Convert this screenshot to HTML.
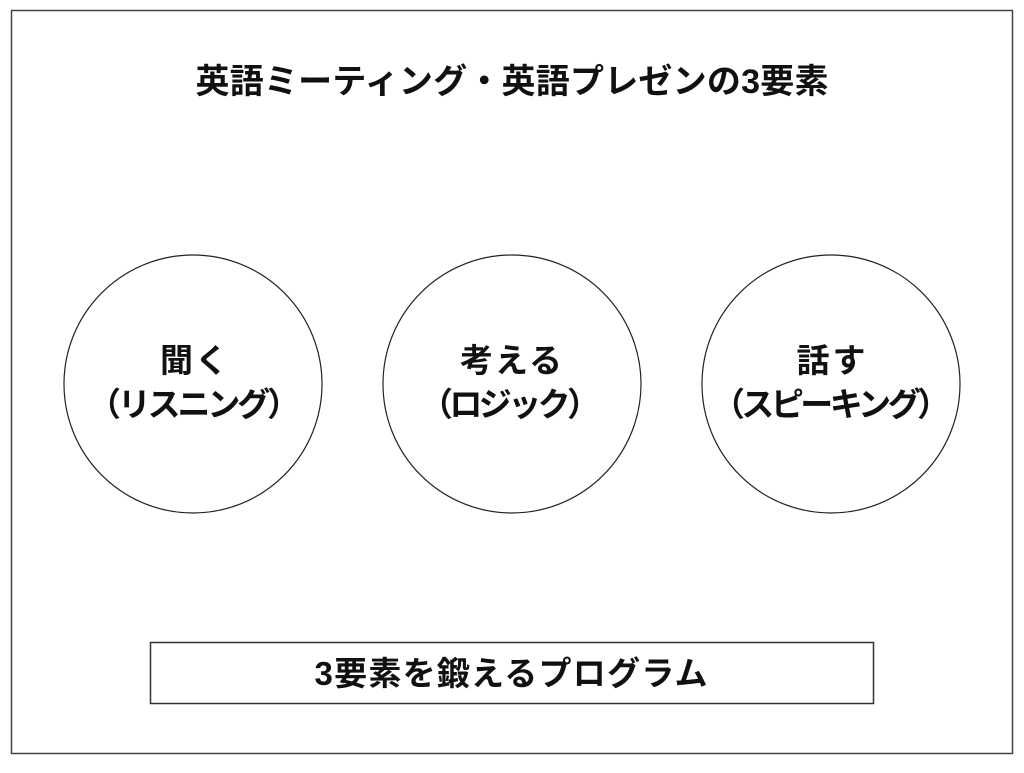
<!DOCTYPE html>
<html><head><meta charset="utf-8"><style>
html,body{margin:0;padding:0;background:#fff;}
svg text{font-family:"Liberation Sans","Noto Sans CJK JP",sans-serif;font-weight:bold;fill:#111;text-anchor:middle;}
</style></head><body>
<svg width="1024" height="768" viewBox="0 0 1024 768" xmlns="http://www.w3.org/2000/svg">
<rect x="11.5" y="10.5" width="1001" height="743" fill="#fff" stroke="#444" stroke-width="1.5"/>
<text x="512" y="93" font-size="34" textLength="633" lengthAdjust="spacing">英語ミーティング・英語プレゼンの3要素</text>
<circle cx="193" cy="384" r="129" fill="#fff" stroke="#222" stroke-width="1.2"/>
<circle cx="512" cy="384" r="129" fill="#fff" stroke="#222" stroke-width="1.2"/>
<circle cx="831" cy="384" r="129" fill="#fff" stroke="#222" stroke-width="1.2"/>
<text x="194" y="372" font-size="33" textLength="68" lengthAdjust="spacing">聞く</text>
<text x="194" y="416" font-size="33" textLength="212" lengthAdjust="spacing">（リスニング）</text>
<text x="511" y="372" font-size="33" textLength="102" lengthAdjust="spacing">考える</text>
<text x="510" y="416" font-size="33" textLength="180" lengthAdjust="spacing">（ロジック）</text>
<text x="831" y="372" font-size="33" textLength="69" lengthAdjust="spacing">話す</text>
<text x="831" y="416" font-size="33" textLength="238" lengthAdjust="spacing">（スピーキング）</text>
<rect x="150.5" y="642.5" width="723" height="61" fill="#fff" stroke="#333" stroke-width="1.5"/>
<text x="511" y="685" font-size="33" textLength="393" lengthAdjust="spacing">3要素を鍛えるプログラム</text>
</svg>
</body></html>
